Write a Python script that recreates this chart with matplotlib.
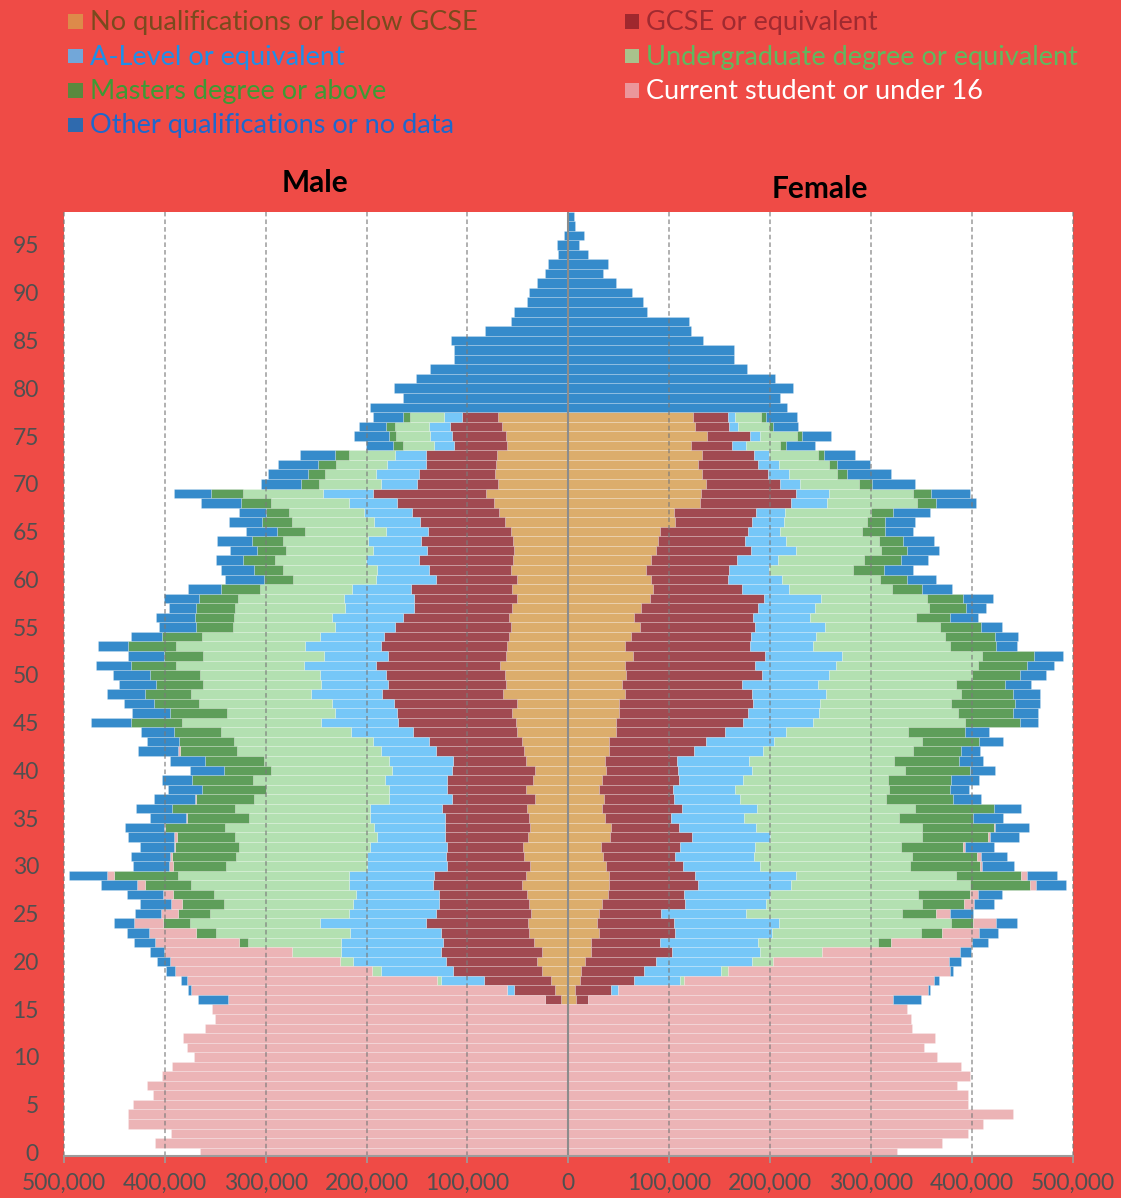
import numpy as np
import matplotlib
matplotlib.use("Agg")
import matplotlib.pyplot as plt
from matplotlib.ticker import FuncFormatter

plt.rcParams['font.family'] = ['Lato', 'DejaVu Sans']

# ---------------- data (thousands of people) ----------------
ages = np.arange(0, 99)
categories = ["No qualifications or below GCSE", "GCSE or equivalent",
              "A-Level or equivalent", "Undergraduate degree or equivalent",
              "Masters degree or above", "Current student or under 16",
              "Other qualifications or no data"]

# ages 0-15: only "Current student or under 16"
male_under16 = [365, 410, 394, 437, 437, 432, 412, 418, 403, 393, 371, 378, 382, 360, 350, 353]
female_under16 = [326, 371, 396, 411, 441, 396, 396, 385, 398, 389, 366, 353, 364, 341, 340, 336]

# ages 78-98: only "Other qualifications or no data"
male_old_other = [197, 164, 173, 151, 137, 113, 113, 116, 83, 57, 54, 41, 39, 31, 23, 20, 10, 11, 4, 1, 1]
female_old_other = [217, 210, 223, 205, 177, 164, 164, 134, 122, 120, 78, 74, 63, 47, 34, 39, 20, 11, 16, 7, 6]

# ages 16-77: cumulative outer edge of each category
m_edge_noqual = [7, 13, 17, 26, 31, 26, 34, 39, 40, 37, 39, 41, 46, 42, 38, 44, 45, 40, 38, 39,
                 41, 33, 42, 35, 33, 42, 44, 46, 51, 52, 56, 51, 65, 62, 63, 68, 62, 61, 59, 57,
                 59, 56, 51, 56, 51, 57, 55, 54, 55, 57, 63, 69, 74, 82, 70, 73, 72, 71, 61, 62, 66, 70]
m_edge_gcse = [23, 54, 84, 114, 121, 126, 124, 126, 141, 131, 128, 128, 134, 133, 120, 121, 120, 122, 122, 122,
               125, 115, 120, 120, 115, 114, 131, 138, 154, 169, 170, 173, 185, 179, 181, 191, 179, 186, 183, 172,
               164, 153, 153, 156, 131, 138, 148, 140, 146, 139, 147, 155, 170, 194, 150, 148, 141, 141, 113, 115, 117, 105]
m_edge_alevel = [23, 61, 126, 186, 213, 225, 225, 216, 246, 217, 213, 210, 217, 217, 200, 200, 197, 190, 193, 197,
                 197, 178, 178, 182, 175, 178, 186, 194, 215, 245, 231, 234, 255, 245, 246, 262, 242, 261, 246, 231,
                 234, 221, 222, 214, 191, 190, 201, 194, 199, 181, 193, 203, 217, 243, 186, 191, 180, 172, 133, 137, 138, 123]
m_edge_ugrad = [23, 61, 130, 195, 226, 274, 318, 349, 375, 355, 341, 351, 374, 387, 339, 329, 326, 330, 340, 317,
                330, 312, 300, 313, 295, 302, 328, 331, 344, 383, 338, 366, 374, 362, 365, 389, 362, 389, 363, 332,
                331, 330, 327, 306, 273, 283, 291, 280, 283, 261, 274, 277, 295, 323, 247, 241, 230, 217, 164, 171, 172, 157]
m_edge_masters = [23, 61, 130, 195, 226, 274, 326, 369, 402, 387, 383, 392, 420, 450, 392, 393, 390, 388, 400, 378,
                  393, 369, 363, 373, 341, 360, 385, 386, 391, 434, 395, 411, 420, 409, 415, 434, 401, 437, 403, 369,
                  370, 369, 366, 344, 302, 312, 323, 309, 314, 289, 304, 300, 324, 354, 265, 258, 248, 231, 174, 178, 181, 164]
m_edge_student = [337, 374, 378, 390, 395, 401, 410, 416, 431, 404, 394, 402, 428, 457, 396, 395, 391, 391, 401, 379,
                  393, 370, 363, 373, 341, 360, 387, 386, 391, 434, 395, 411, 420, 409, 415, 434, 401, 437, 403, 369,
                  370, 369, 366, 344, 302, 312, 323, 309, 314, 289, 304, 300, 324, 354, 265, 258, 248, 231, 174, 178, 181, 164]
m_edge_other = [367, 377, 384, 399, 408, 415, 431, 438, 450, 430, 425, 438, 463, 495, 432, 434, 425, 437, 440, 415,
                429, 411, 397, 403, 375, 395, 427, 418, 424, 473, 433, 441, 457, 445, 451, 468, 437, 466, 434, 406,
                409, 396, 401, 377, 340, 344, 349, 335, 348, 320, 336, 326, 364, 391, 305, 298, 288, 266, 201, 212, 207, 194]

f_edge_noqual = [8, 7, 12, 13, 17, 23, 23, 30, 29, 30, 33, 39, 40, 40, 37, 34, 32, 41, 42, 36,
                 33, 35, 30, 33, 37, 36, 40, 40, 47, 47, 50, 50, 56, 53, 57, 56, 64, 56, 62, 71,
                 65, 72, 81, 84, 82, 77, 82, 87, 89, 91, 106, 105, 131, 132, 137, 133, 129, 133, 122, 138, 126, 124]
f_edge_gcse = [20, 42, 65, 75, 87, 103, 91, 106, 105, 92, 116, 115, 129, 126, 114, 106, 111, 123, 110, 102,
               113, 105, 104, 110, 109, 108, 125, 137, 155, 173, 178, 183, 182, 172, 192, 185, 195, 180, 181, 185,
               183, 188, 194, 172, 158, 159, 167, 181, 175, 178, 182, 186, 221, 226, 210, 198, 188, 184, 162, 180, 159, 158]
f_edge_alevel = [20, 49, 111, 151, 182, 190, 188, 202, 209, 176, 196, 200, 221, 226, 190, 184, 185, 200, 186, 174,
                 187, 170, 165, 173, 182, 179, 193, 204, 216, 243, 249, 250, 256, 248, 259, 265, 271, 243, 246, 255,
                 240, 245, 251, 219, 212, 199, 208, 226, 216, 210, 214, 215, 257, 259, 230, 219, 209, 199, 176, 190, 168, 165]
f_edge_ugrad = [20, 49, 115, 158, 203, 252, 307, 350, 380, 331, 351, 347, 398, 384, 339, 341, 330, 351, 351, 328,
                344, 315, 318, 317, 334, 323, 342, 351, 337, 393, 386, 380, 389, 384, 400, 406, 410, 379, 374, 369,
                345, 358, 356, 321, 309, 282, 293, 310, 308, 291, 296, 300, 346, 342, 288, 266, 259, 248, 210, 227, 199, 191]
f_edge_masters = [20, 49, 115, 158, 203, 252, 320, 371, 401, 365, 392, 398, 458, 449, 408, 405, 391, 416, 422, 401,
                  422, 382, 379, 380, 398, 387, 389, 407, 393, 448, 441, 443, 441, 433, 448, 455, 462, 424, 423, 409,
                  379, 394, 391, 351, 336, 313, 330, 336, 332, 314, 314, 322, 365, 360, 301, 276, 266, 254, 216, 232, 203, 196]
f_edge_student = [322, 357, 363, 379, 378, 388, 400, 407, 424, 379, 402, 406, 464, 455, 410, 409, 393, 418, 423, 401,
                  422, 382, 379, 380, 398, 387, 389, 407, 393, 448, 441, 443, 441, 433, 448, 455, 462, 424, 423, 409,
                  379, 394, 391, 351, 336, 313, 330, 336, 332, 314, 314, 322, 365, 360, 301, 276, 266, 254, 216, 232, 203, 196]
f_edge_other = [350, 359, 368, 382, 389, 399, 416, 426, 445, 401, 422, 430, 494, 485, 442, 435, 422, 447, 457, 431,
                449, 409, 397, 407, 423, 411, 408, 431, 417, 466, 466, 468, 468, 459, 474, 482, 491, 445, 446, 430,
                406, 414, 421, 381, 365, 342, 357, 368, 363, 342, 344, 359, 404, 398, 344, 320, 299, 284, 245, 261, 228, 227]

bar_colors = ['#DCAD6C', '#A14A51', '#76C7F8', '#B3E0B1', '#5E9E5A', '#ECB4B6', '#358BCB']
legend_square_colors = ['#DD8A4A', '#A0282E', '#72A7D9', '#A9C28C', '#5A893E', '#EB969B', '#2F6AAE']
legend_text_colors = ['#7A4A1E', '#A02A30', '#1E8FE8', '#5FB95F', '#3E9A35', '#FFFFFF', '#1E68CC']


def assemble(under16, edges, old_other):
    cum = np.zeros((7, len(ages)))
    cum[5, :16] = under16
    cum[6, :16] = under16
    cum[:, 16:78] = np.array(edges, dtype=float)
    cum[6, 78:] = old_other
    vals = np.diff(np.vstack([np.zeros(len(ages)), cum]), axis=0)
    vals = np.clip(vals, 0, None)
    lefts = np.cumsum(np.vstack([np.zeros(len(ages)), vals[:-1]]), axis=0)
    return vals * 1000, lefts * 1000


male_vals, male_lefts = assemble(male_under16,
                                 [m_edge_noqual, m_edge_gcse, m_edge_alevel, m_edge_ugrad,
                                  m_edge_masters, m_edge_student, m_edge_other], male_old_other)
female_vals, female_lefts = assemble(female_under16,
                                     [f_edge_noqual, f_edge_gcse, f_edge_alevel, f_edge_ugrad,
                                      f_edge_masters, f_edge_student, f_edge_other], female_old_other)

# ---------------- figure ----------------
W, H = 1121, 1198
fig = plt.figure(figsize=(W / 100, H / 100), dpi=100)
bg = '#EF4B46'
fig.patch.set_facecolor(bg)

ax = fig.add_axes([64 / W, (H - 1156) / H, 1008.5 / W, 944 / H])
ax.set_facecolor('white')

for i in range(7):
    for sign, vals, lefts in ((-1, male_vals, male_lefts), (1, female_vals, female_lefts)):
        m = vals[i] > 0
        ax.barh(ages[m], sign * vals[i][m], left=sign * lefts[i][m], height=1.0,
                color=bar_colors[i], edgecolor=(1, 1, 1, 0.28), linewidth=0.5, zorder=2)

ax.set_xlim(-500000, 500000)
ax.set_ylim(-0.37, 98.45)

for xv in range(-500000, 500001, 100000):
    if xv == 0:
        continue
    ax.axvline(xv, color='#7a7a7a', alpha=0.75, lw=1.1, dashes=(3.0, 2.0), zorder=3, clip_on=False)
ax.axvline(0, color='#8c8c8c', lw=1.5, zorder=4)

for s in ['top', 'left', 'right']:
    ax.spines[s].set_visible(False)
ax.spines['bottom'].set_color('#9c9c9c')
ax.spines['bottom'].set_linewidth(1.5)
ax.spines['bottom'].set_zorder(5)

ax.set_xticks(np.arange(-500000, 500001, 100000))
ax.xaxis.set_major_formatter(FuncFormatter(lambda v, p: f"{abs(int(round(v))):,}"))
ax.set_yticks(np.arange(0, 96, 5))
ax.tick_params(axis='x', colors='#9c9c9c', length=5, width=1.2, pad=7, labelsize=16.5, labelcolor='#505050')
ax.tick_params(axis='y', length=0, pad=18, labelsize=16.5, labelcolor='#505050')

# titles
fig.text(315 / W, 1 - 183 / H, 'Male', ha='center', va='center', fontsize=21.5, fontweight='bold', color='black')
fig.text(820 / W, 1 - 189 / H, 'Female', ha='center', va='center', fontsize=21.5, fontweight='bold', color='black')

# legend
order_positions = [(0, 0), (1, 0), (0, 1), (1, 1), (0, 2), (1, 2), (0, 3)]
row_y = [21.5, 56, 90.5, 125]
col_sq = [68, 625]
col_tx = [90, 646]
for i, (col, row) in enumerate(order_positions):
    y = row_y[row]
    sq = plt.Rectangle((col_sq[col] / W, 1 - (y + 7.3) / H), 14.5 / W, 14.5 / H,
                       transform=fig.transFigure, facecolor=legend_square_colors[i], edgecolor='none')
    fig.patches.append(sq)
    fig.text(col_tx[col] / W, 1 - (y + 1) / H, categories[i], ha='left', va='center',
             fontsize=19.5, color=legend_text_colors[i])

fig.savefig('out.png', dpi=100, facecolor=bg)
